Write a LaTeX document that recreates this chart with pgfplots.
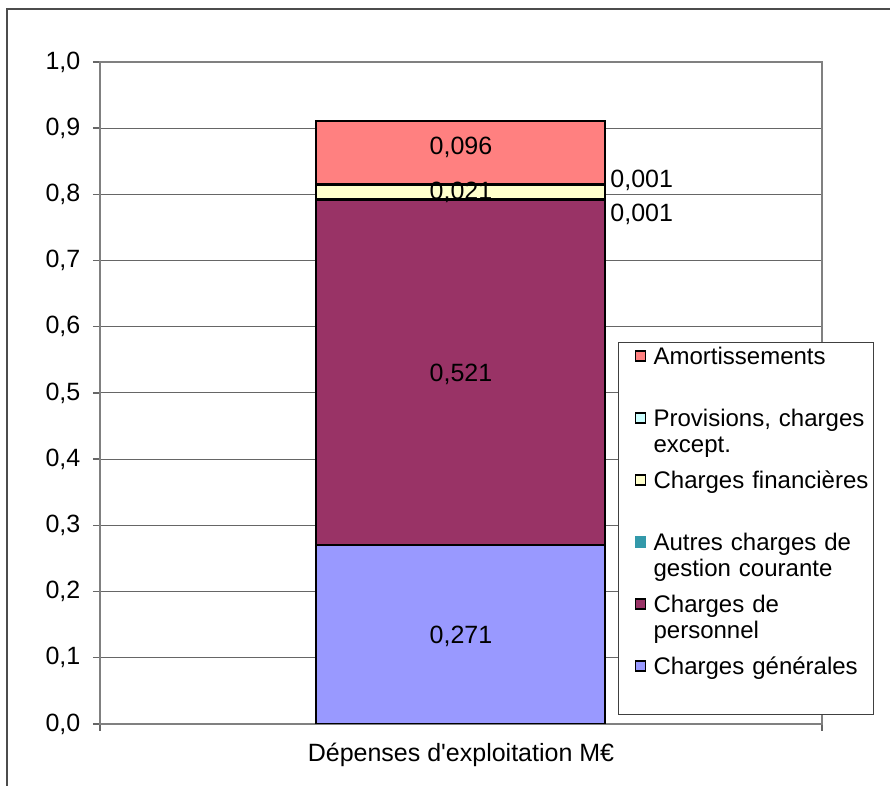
\documentclass[border=0pt]{standalone}
\usepackage{fontspec}
\setmainfont{Liberation Sans}
\usepackage{pgfplots}
\pgfplotsset{compat=1.18}

\definecolor{cgen}{HTML}{9999FF}
\definecolor{cpers}{HTML}{993366}
\definecolor{cautres}{HTML}{3399AA}
\definecolor{cfin}{HTML}{FFFFCC}
\definecolor{cprov}{HTML}{CCFFFF}
\definecolor{camort}{HTML}{FF8080}

\pgfplotsset{
  sqlegend/.style={legend image code/.code={
      \path[draw=none, fill=none] (0pt,0pt) -- (17.5pt,0pt);
      \draw[##1, line width=0.8pt] (8.5pt,1.8pt) rectangle (13.5pt,6.8pt);
  }},
}

\begin{document}
\fontsize{12.5}{15}\selectfont
\begin{tikzpicture}
\useasboundingbox (-50pt,-31pt) rectangle (395pt,362pt);
\draw[black!70, line width=1pt] (-46.5pt,-31pt) -- (-46.5pt,357.5pt) -- (395pt,357.5pt);
\begin{axis}[
    width=361pt, height=331pt, scale only axis,
    xmin=-0.5, xmax=0.5, ymin=0, ymax=1,
    ybar stacked, bar width=144.5pt,
    every axis plot post/.append style={sqlegend},
    ytick={0,0.1,0.2,0.3,0.4,0.5,0.6,0.7,0.8,0.9,1},
    yticklabel style={xshift=-2pt,
        /pgf/number format/fixed, /pgf/number format/fixed zerofill,
        /pgf/number format/precision=1, /pgf/number format/use comma,
        /pgf/number format/assume math mode=true},
    xtick={-0.5,0.5}, xticklabels={,},
    xlabel={Dépenses d\textquotesingle exploitation M€},
    x label style={at={(axis description cs:0.5,-0.047)}, anchor=center},
    ymajorgrids, grid style={black!60, line width=0.5pt},
    axis line style={black!50, line width=0.9pt},
    tick style={black!60, line width=0.7pt},
    tick align=outside, major tick length=3.5pt,
    ytick pos=left, xtick pos=bottom,
    reverse legend,
    legend style={
        at={(rel axis cs:0.7175,0.577)}, anchor=north west,
        inner xsep=0pt, inner ysep=0pt,
        draw=black!75, line width=0.6pt, fill=white,
        cells={anchor=base west},
        nodes={inner sep=0pt, text width=110pt, align=left,
               text height=11pt, text depth=20pt,
               font=\fontsize{12}{13}\selectfont},
    },
]
\addplot[fill=cgen, draw=black, line width=1pt] coordinates {(0,0.271)};
\addlegendentry{Charges générales}
\addplot[fill=cpers, draw=black, line width=1pt] coordinates {(0,0.521)};
\addlegendentry{Charges de\\personnel}
\addplot[fill=cautres, draw=cautres, line width=0.1pt] coordinates {(0,0.001)};
\addlegendentry{Autres charges de\\gestion courante}
\addplot[fill=cfin, draw=black, line width=1pt] coordinates {(0,0.021)};
\addlegendentry{Charges financières}
\addplot[fill=cprov, draw=black, line width=1pt] coordinates {(0,0.001)};
\addlegendentry{Provisions, charges\\except.}
\addplot[fill=camort, draw=black, line width=1pt] coordinates {(0,0.096)};
\addlegendentry{Amortissements}

\coordinate (lgen) at (axis cs:0,0.1329);
\coordinate (lpers) at (axis cs:0,0.5287);
\coordinate (lfin) at (axis cs:0,0.8035);
\coordinate (lamort) at (axis cs:0,0.8716);
\coordinate (lprov) at (axis cs:0.2064,0.8218);
\coordinate (lautres) at (axis cs:0.2064,0.7704);
\end{axis}
\node at (lgen) {0,271};
\node at (lpers) {0,521};
\node at (lfin) {0,021};
\node at (lamort) {0,096};
\node[anchor=west, inner sep=0pt] at (lprov) {0,001};
\node[anchor=west, inner sep=0pt] at (lautres) {0,001};
\end{tikzpicture}
\end{document}
